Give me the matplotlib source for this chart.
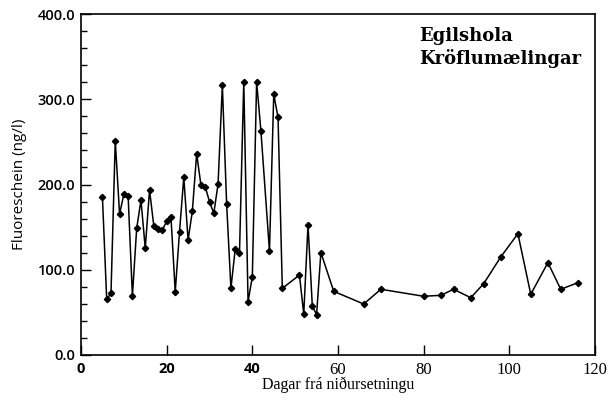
import matplotlib
matplotlib.use("Agg")
import matplotlib.pyplot as plt
from matplotlib.ticker import MultipleLocator, FormatStrFormatter

days = [5, 6, 7, 8, 9, 10, 11, 12, 13, 14, 15, 16, 17, 18, 19, 20, 21, 22, 23, 24,
        25, 26, 27, 28, 29, 30, 31, 32, 33, 34, 35, 36, 37, 38, 39, 40, 41, 42,
        44, 45, 46, 47, 51, 52, 53, 54, 55, 56, 59, 66, 70, 80, 84, 87, 91, 94,
        98, 102, 105, 109, 112, 116]
fluor = [185.7, 65.3, 72.4, 251.4, 165.4, 188.5, 186.9, 69.2, 148.6, 181.5,
         125.2, 193.5, 151.3, 147.4, 146.6, 156.8, 162.2, 74.3, 144.6, 208.4,
         134.9, 168.9, 236.1, 199.4, 197.4, 179.8, 166.2, 200.6, 316.4, 177.1,
         78.2, 124.0, 119.3, 320.6, 62.5, 91.8, 320.6, 263.1,
         122.0, 305.8, 278.8, 78.2, 93.8, 47.9, 152.8, 57.7, 47.2, 120.2, 74.7,
         59.8, 77.1, 68.9, 70.0, 77.1, 67.2, 83.6,
         115.0, 142.3, 71.2, 108.3, 77.1, 84.8]

title_lines = ["Egilshola", "Kröflumælingar"]
xlabel = "Dagar frá niðursetningu"
ylabel = "Fluoreschein (ng/l)"

fig = plt.figure(figsize=(6.1, 4.01), dpi=100)
ax = fig.add_axes([81/610, 1-355/401, (595-81)/610, (355-14)/401])

ax.plot(days, fluor, color="black", lw=1.1, marker="D", ms=3.2,
        mfc="black", mec="black")

ax.set_xlim(0, 120)
ax.set_ylim(0, 400)
ax.xaxis.set_major_locator(MultipleLocator(20))
ax.yaxis.set_major_locator(MultipleLocator(100))
ax.yaxis.set_minor_locator(MultipleLocator(20))
ax.yaxis.set_major_formatter(FormatStrFormatter("%.1f"))
ax.tick_params(axis="both", which="major", direction="in", length=7, width=1,
               color="black")
ax.tick_params(axis="y", which="minor", direction="in", length=4, width=1)
ax.tick_params(axis="x", pad=5)
ax.tick_params(axis="y", pad=4)

fig.canvas.draw()
for lab in ax.get_yticklabels():
    lab.set_fontfamily("Open Sans")
    lab.set_fontweight("semibold")
    lab.set_fontsize(10.5)
for lab in ax.get_xticklabels():
    txt = lab.get_text()
    if txt in ("0", "20", "40"):
        lab.set_fontfamily("Open Sans")
        lab.set_fontweight("bold")
        lab.set_fontsize(10.5)
    else:
        lab.set_fontfamily("Liberation Serif")
        lab.set_fontsize(12)

for s in ax.spines.values():
    s.set_linewidth(1.2)
    s.set_color("black")

ax.set_xlabel(xlabel, fontfamily="Liberation Serif", fontsize=11.5, labelpad=-1)
ax.set_ylabel(ylabel, fontfamily="Open Sans", fontsize=11, labelpad=8)

ax.text(0.658, 0.935, title_lines[0], transform=ax.transAxes,
        fontfamily="DejaVu Serif", fontweight="bold", fontsize=13,
        va="center", ha="left")
ax.text(0.658, 0.87, title_lines[1], transform=ax.transAxes,
        fontfamily="DejaVu Serif", fontweight="bold", fontsize=13,
        va="center", ha="left")

fig.savefig("out.png", dpi=100)
